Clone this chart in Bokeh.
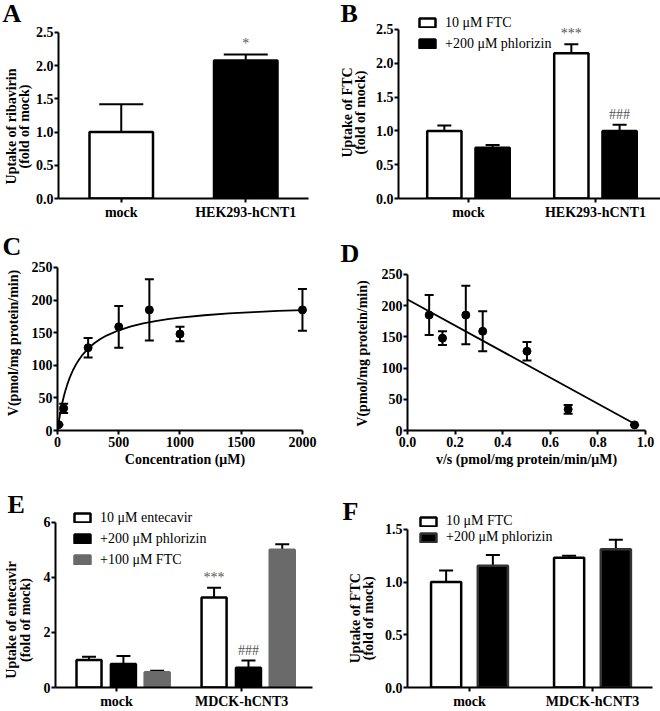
from bokeh.plotting import figure
from bokeh.models import (Range1d, FixedTicker, NumeralTickFormatter, Whisker, TeeHead,
                          ColumnDataSource, Legend, LegendItem)
from bokeh.layouts import column, row
from bokeh.embed import file_html
from bokeh.resources import INLINE
from bokeh.core.properties import value

SERIF = "Liberation Serif"

# ---------------- data ----------------
A_groups = ["mock", "HEK293-hCNT1"]
A_uptake = [1.0, 2.08]
A_err = [0.42, 0.09]
A_sig = ["", "*"]

B_groups = ["mock", "HEK293-hCNT1"]
B_series = ["10 \u03bcM FTC", "+200 \u03bcM phlorizin"]
B_ftc = [1.0, 2.15]
B_ftc_err = [0.08, 0.13]
B_phl = [0.75, 1.0]
B_phl_err = [0.04, 0.09]
B_ftc_sig = ["", "***"]
B_phl_sig = ["", "###"]

C_conc = [10, 50, 250, 500, 750, 1000, 2000]
C_v = [9, 34, 127, 159, 185, 148, 185]
C_err = [0, 7, 15, 32, 47, 11, 32]
C_vmax = 198.0
C_km = 144.0
C_fit_s = [0, 5, 10, 20, 30, 40, 50, 60, 80, 100, 125, 150, 175, 200, 250, 300, 350, 400,
           500, 600, 700, 800, 900, 1000, 1200, 1400, 1600, 1800, 2000]

D_vs = [0.954, 0.675, 0.502, 0.316, 0.245, 0.147, 0.091]
D_v = [9, 34, 127, 159, 185, 148, 185]
D_err = [0, 7, 15, 32, 47, 11, 32]
D_intercept = 210.0
D_slope = -209.0
D_line_x = [0.0, 0.965]

E_groups = ["mock", "MDCK-hCNT3"]
E_series = ["10 \u03bcM entecavir", "+200 \u03bcM phlorizin", "+100 \u03bcM FTC"]
E_ent = [1.0, 3.27]
E_ent_err = [0.12, 0.35]
E_phl = [0.85, 0.72]
E_phl_err = [0.29, 0.26]
E_ftc = [0.55, 5.0]
E_ftc_err = [0.06, 0.20]
E_ent_sig = ["", "***"]
E_phl_sig = ["", "###"]

F_groups = ["mock", "MDCK-hCNT3"]
F_series = ["10 \u03bcM FTC", "+200 \u03bcM phlorizin"]
F_ftc = [1.0, 1.23]
F_ftc_err = [0.11, 0.02]
F_phl = [1.155, 1.31]
F_phl_err = [0.10, 0.09]

GRAY = "#6a6a6a"


def pad(n):
    return " " * n


def make_fig(letter, w, h, l, r, t, b, xr, yr, letter_off, standoff, ystd):
    p = figure(width=w, height=h, x_range=Range1d(*xr), y_range=Range1d(*yr),
               output_backend="svg", toolbar_location=None, title=letter,
               min_border_left=l, min_border_right=r, min_border_top=t, min_border_bottom=b)
    p.title.text_font = SERIF
    p.title.text_font_style = "bold"
    p.title.text_font_size = "26px"
    p.title.text_color = "black"
    p.title.align = "left"
    p.title.offset = letter_off
    p.title.standoff = standoff
    p.outline_line_color = None
    p.grid.visible = False
    p.background_fill_color = "white"
    p.border_fill_color = "white"
    for ax in p.axis:
        ax.axis_line_width = 2
        ax.axis_line_color = "black"
        ax.major_tick_line_width = 2
        ax.major_tick_line_color = "black"
        ax.major_tick_out = 4
        ax.major_tick_in = 0
        ax.minor_tick_line_color = None
        ax.major_label_text_font = SERIF
        ax.major_label_text_font_style = "bold"
        ax.major_label_text_font_size = "14px"
        ax.major_label_text_color = "black"
        ax.major_label_standoff = 2
        ax.axis_label_text_font = SERIF
        ax.axis_label_text_font_style = "bold"
        ax.axis_label_text_font_size = "14px"
        ax.axis_label_text_color = "black"
        ax.axis_label_text_line_height = 0.9
        ax.axis_label_standoff = 2
    p.yaxis.axis_label_standoff = ystd
    p.yaxis.major_label_standoff = 1
    return p


def cat_axis(p, groups):
    p.xaxis.ticker = FixedTicker(ticks=list(range(len(groups))))
    p.xaxis.major_label_overrides = {i: g for i, g in enumerate(groups)}


def bars(p, groups, vals, errs, offset, width, fill, line, cap, sig=None):
    xs = [i + offset for i in range(len(groups))]
    ups = [v + e for v, e in zip(vals, errs)]
    src = ColumnDataSource(dict(x=xs, top=vals, up=ups, sig=sig if sig else [""] * len(vals)))
    p.add_layout(Whisker(source=src, base="x", upper="up", lower="top", dimension="height",
                         line_width=2, line_color="black",
                         upper_head=TeeHead(size=cap, line_width=2, line_color="black"),
                         lower_head=None))
    r = p.vbar(x="x", top="top", bottom=0, width=width, source=src,
               fill_color=fill, line_color=line, line_width=2.5)
    if sig:
        p.text(x="x", y="up", text="sig", source=src, text_font=value(SERIF),
               text_font_size=value("14px"), text_align="center", text_baseline="bottom",
               y_offset=-3, text_color="#555555")
    return r


def legend(p, items, vx, vy, lh, sp):
    lg = Legend(items=[LegendItem(label=t, renderers=[r]) for t, r in items],
                location=(vx, vy), glyph_width=20, glyph_height=11, label_height=lh,
                spacing=sp, padding=0, margin=0, label_standoff=8,
                label_text_font=SERIF, label_text_font_size="14px", label_text_color="black",
                border_line_alpha=0, background_fill_alpha=0)
    p.add_layout(lg)


# ---------------- A ----------------
fA = make_fig("A", 330, 230, 54, 22, 12, 32, (-0.504, 1.504), (0, 2.801), -56, -31, 1)
cat_axis(fA, A_groups)
fA.yaxis.ticker = FixedTicker(ticks=[0, 0.5, 1.0, 1.5, 2.0, 2.5])
fA.yaxis.formatter = NumeralTickFormatter(format="0.0")
fA.yaxis.bounds = (0, 2.5)
fA.yaxis.axis_label = "Uptake of ribavirin" + pad(12) + "\n(fold of mock)" + pad(12)
xsA = list(range(len(A_groups)))
srcA = ColumnDataSource(dict(x=xsA, top=A_uptake, up=[v + e for v, e in zip(A_uptake, A_err)],
                             sig=A_sig, fill=["white", "black"]))
fA.add_layout(Whisker(source=srcA, base="x", upper="up", lower="top", line_width=2,
                      upper_head=TeeHead(size=44, line_width=2), lower_head=None))
fA.vbar(x="x", top="top", bottom=0, width=0.51, source=srcA, fill_color="fill",
        line_color="black", line_width=2.5)
fA.text(x="x", y="up", text="sig", source=srcA, text_font=value(SERIF),
        text_font_size=value("14px"), text_align="center", text_baseline="bottom",
        y_offset=-3, text_color="#555555")

# ---------------- B ----------------
fB = make_fig("B", 330, 230, 68, 0, 12, 32, (-0.551, 1.512), (0, 2.751), -58, -31, 5)
cat_axis(fB, B_groups)
fB.yaxis.ticker = FixedTicker(ticks=[0, 0.5, 1.0, 1.5, 2.0, 2.5])
fB.yaxis.formatter = NumeralTickFormatter(format="0.0")
fB.yaxis.bounds = (0, 2.5)
fB.yaxis.axis_label = "Uptake of FTC" + pad(4) + "\n(fold of mock)" + pad(4)
rB1 = bars(fB, B_groups, B_ftc, B_ftc_err, -0.19, 0.27, "white", "black", 14, B_ftc_sig)
rB2 = bars(fB, B_groups, B_phl, B_phl_err, 0.19, 0.27, "black", "black", 14, B_phl_sig)
legend(fB, [(B_series[0], rB1), (B_series[1], rB2)], 19, 146, 17, 4)

# ---------------- C ----------------
fC = make_fig("C", 330, 240, 57, 18, 25, 40, (0, 2082), (0, 268.4), -55, -11, 8)
fC.xaxis.ticker = FixedTicker(ticks=[0, 500, 1000, 1500, 2000])
fC.xaxis.bounds = (0, 2000)
fC.yaxis.ticker = FixedTicker(ticks=[0, 50, 100, 150, 200, 250])
fC.yaxis.bounds = (0, 250)
fC.xaxis.axis_label = "Concentration (\u03bcM)"
fC.yaxis.axis_label = "V(pmol/mg protein/min)"
fit_v = [C_vmax * s / (C_km + s) for s in C_fit_s]
fC.line(C_fit_s, fit_v, line_color="black", line_width=1.8)
srcC = ColumnDataSource(dict(x=C_conc, y=C_v, lo=[v - e for v, e in zip(C_v, C_err)],
                             hi=[v + e for v, e in zip(C_v, C_err)]))
fC.add_layout(Whisker(source=srcC, base="x", upper="hi", lower="lo", line_width=2,
                      upper_head=TeeHead(size=9, line_width=2),
                      lower_head=TeeHead(size=9, line_width=2)))
fC.scatter(x="x", y="y", source=srcC, size=8, color="black")

# ---------------- D ----------------
fD = make_fig("D", 330, 240, 77, 15, 25, 40, (0, 1.0), (0, 280.4), -67, -25, 9)
fD.xaxis.ticker = FixedTicker(ticks=[0, 0.2, 0.4, 0.6, 0.8, 1.0])
fD.xaxis.formatter = NumeralTickFormatter(format="0.0")
fD.yaxis.ticker = FixedTicker(ticks=[0, 50, 100, 150, 200, 250])
fD.yaxis.bounds = (0, 250)
fD.xaxis.axis_label = "v/s (pmol/mg protein/min/\u03bcM)"
fD.yaxis.axis_label = "V(pmol/mg protein/min)" + pad(6)
fD.line(D_line_x, [D_intercept + D_slope * x for x in D_line_x], line_color="black", line_width=1.8)
srcD = ColumnDataSource(dict(x=D_vs, y=D_v, lo=[v - e for v, e in zip(D_v, D_err)],
                             hi=[v + e for v, e in zip(D_v, D_err)]))
fD.add_layout(Whisker(source=srcD, base="x", upper="hi", lower="lo", line_width=2,
                      upper_head=TeeHead(size=9, line_width=2),
                      lower_head=TeeHead(size=9, line_width=2)))
fD.scatter(x="x", y="y", source=srcD, size=8, color="black")

# ---------------- E ----------------
fE = make_fig("E", 330, 241, 51, 18, 40, 22, (-0.488, 1.567), (0, 6.43), -48, -17, 8)
cat_axis(fE, E_groups)
fE.yaxis.ticker = FixedTicker(ticks=[0, 2, 4, 6])
fE.yaxis.bounds = (0, 6)
fE.yaxis.axis_label = "Uptake of entecavir" + pad(12) + "\n(fold of mock)" + pad(12)
rE1 = bars(fE, E_groups, E_ent, E_ent_err, -0.22, 0.2, "white", "black", 14, E_ent_sig)
rE2 = bars(fE, E_groups, E_phl, E_phl_err, 0.055, 0.2, "black", "black", 14, E_phl_sig)
rE3 = bars(fE, E_groups, E_ftc, E_ftc_err, 0.325, 0.2, GRAY, GRAY, 14, None)
legend(fE, [(E_series[0], rE1), (E_series[1], rE2), (E_series[2], rE3)], 17, 119, 17, 4)

# ---------------- F ----------------
fF = make_fig("F", 330, 241, 77, 8, 40, 22, (-0.504, 1.488), (0, 1.678), -65, -31, 6)
cat_axis(fF, F_groups)
fF.yaxis.ticker = FixedTicker(ticks=[0, 0.5, 1.0, 1.5])
fF.yaxis.formatter = NumeralTickFormatter(format="0.0")
fF.yaxis.bounds = (0, 1.5)
fF.yaxis.axis_label = "Uptake of FTC" + pad(11) + "\n(fold of mock)" + pad(11)
rF1 = bars(fF, F_groups, F_ftc, F_ftc_err, -0.19, 0.245, "white", "black", 14, None)
rF2 = bars(fF, F_groups, F_phl, F_phl_err, 0.19, 0.245, "black", "#333333", 14, None)
legend(fF, [(F_series[0], rF1), (F_series[1], rF2)], 11, 142, 16, 0)

layout = column(row(fA, fB), row(fC, fD), row(fE, fF))
open("out.html", "w").write(file_html(layout, INLINE))
